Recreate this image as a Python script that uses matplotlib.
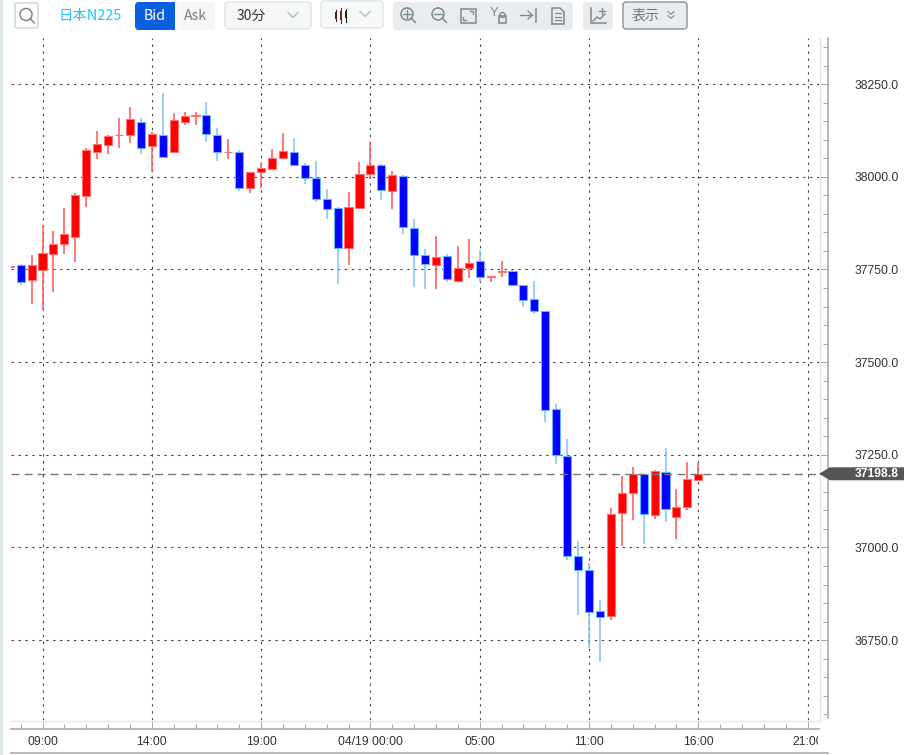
import matplotlib
matplotlib.use('Agg')
import matplotlib.pyplot as plt
from matplotlib.patches import FancyBboxPatch, Rectangle, Polygon, Circle
from matplotlib.ticker import FixedLocator, MultipleLocator, FixedFormatter, FormatStrFormatter
from matplotlib.transforms import Bbox

plt.rcParams['lines.scale_dashes'] = False

# 30 minute candles, index 0 is the 09:00 tick
first_index = -3
opens = [37758, 37761, 37721, 37749, 37793, 37819, 37838, 37949, 38067, 38087,
         38112, 38113, 38148, 38082, 38114, 38067, 38149, 38163, 38167, 38113,
         38066, 38067, 37969, 38012, 38021, 38052, 38066, 38032, 37998, 37941,
         37915, 37807, 37915, 38008, 38032, 37963, 38002, 37862, 37788, 37762,
         37785, 37720, 37755, 37772, 37730, 37743, 37746, 37709, 37669, 37637,
         37374, 37248, 36977, 36938, 36829, 36815, 37093, 37147, 37197, 37087,
         37203, 37083, 37109, 37183]
highs = [37759, 37766, 37790, 37869, 37854, 37916, 37957, 38078, 38123, 38113,
         38158, 38187, 38158, 38122, 38225, 38173, 38176, 38176, 38203, 38133,
         38103, 38071, 38012, 38037, 38076, 38117, 38106, 38038, 38043, 37968,
         37919, 37959, 38039, 38095, 38035, 38016, 38005, 37885, 37804, 37841,
         37793, 37812, 37831, 37802, 37732, 37772, 37749, 37709, 37719, 37637,
         37388, 37293, 37018, 36959, 36859, 37106, 37192, 37216, 37197, 37209,
         37269, 37158, 37231, 37227]
lows = [37758, 37708, 37656, 37642, 37689, 37793, 37770, 37918, 38049, 38061,
        38077, 38090, 38061, 38013, 38050, 38066, 38140, 38141, 38094, 38044,
        38049, 37961, 37956, 37971, 38021, 38048, 38032, 37980, 37931, 37886,
        37710, 37762, 37915, 37993, 37937, 37914, 37845, 37702, 37697, 37697,
        37715, 37720, 37728, 37716, 37715, 37731, 37709, 37648, 37629, 37338,
        37224, 36966, 36817, 36728, 36692, 36803, 37004, 37074, 37008, 37076,
        37069, 37022, 37102, 37182]
closes = [37760, 37717, 37763, 37794, 37819, 37845, 37950, 38073, 38089, 38110,
          38114, 38155, 38077, 38115, 38053, 38152, 38165, 38167, 38116, 38067,
          38067, 37971, 38012, 38024, 38052, 38069, 38033, 37997, 37940, 37913,
          37807, 37918, 38008, 38031, 37964, 38005, 37865, 37790, 37764, 37784,
          37724, 37754, 37768, 37730, 37732, 37747, 37709, 37668, 37637, 37370,
          37250, 36978, 36938, 36826, 36813, 37091, 37147, 37197, 37091, 37206,
          37104, 37110, 37185, 37198.8]

last_price = 37198.8
tick_pos = [0, 10, 20, 30, 40, 50, 60, 70]
tick_labels = ['09:00', '14:00', '19:00', '04/19 00:00', '05:00', '11:00', '16:00', '21:00']

W, H = 908, 755
# plot area in pixels
L, R, T, B = 11, 819, 38, 720
BAR_STEP = 10.93
X0 = 42.5
ymax, ymin = 38374.5, 36534.5

UP, UP_EDGE, UP_WICK = '#ff0000', '#ff7070', '#ff5555'
DOWN, DOWN_EDGE, DOWN_WICK = '#0000ff', '#66b3ff', '#80c0ff'
GRID = '#444444'
AXIS = '#aaaaaa'
ICON = '#7d8a8e'
NUM_FONT = ['Liberation Sans', 'DejaVu Sans']
UI_FONT = ['Noto Sans CJK JP', 'DejaVu Sans']


def px_axes(x0, y0, x1, y1):
    return fig.add_axes([x0 / W, 1 - y1 / H, (x1 - x0) / W, (y1 - y0) / H])


fig = plt.figure(figsize=(W / 100, H / 100), dpi=100, facecolor='white')

# whole figure layer in pixel coords for the toolbar and borders
ui = px_axes(0, 0, W, H)
ui.set_xlim(0, W)
ui.set_ylim(H, 0)
ui.axis('off')

# main chart
ax = px_axes(L, T, R, B)
ax.set_xlim((L - X0) / BAR_STEP, (R - X0) / BAR_STEP)
ax.set_ylim(ymin, ymax)
ax.patch.set_alpha(0)
for s in ax.spines.values():
    s.set_visible(False)
ax.tick_params(left=False, bottom=False, labelleft=False, labelbottom=False)
ax.xaxis.set_major_locator(FixedLocator(tick_pos))
ax.yaxis.set_major_locator(MultipleLocator(250))
ax.grid(True, color=GRID, lw=0.8, ls=(0, (1.7, 3.3)))
ax.set_axisbelow(True)

xs = [first_index + i for i in range(len(opens))]
colors = [UP if c >= o else DOWN for o, c in zip(opens, closes)]
edges = [UP_EDGE if c >= o else DOWN_EDGE for o, c in zip(opens, closes)]
wicks = [UP_WICK if c >= o else DOWN_WICK for o, c in zip(opens, closes)]

ax.vlines(xs, lows, highs, colors=wicks, lw=1.1, zorder=2)
ax.bar(xs, [abs(c - o) for o, c in zip(opens, closes)], bottom=[min(o, c) for o, c in zip(opens, closes)],
       width=0.74, color=colors, edgecolor=edges, linewidth=0.8, zorder=3)
ax.axhline(last_price, color='#777777', lw=1.0, ls=(0, (5.8, 3.6)), zorder=4)

# right price scale
ay = px_axes(R, T, R + 9, B - 2)
ay.set_ylim(ymin + 2 * (ymax - ymin) / (B - T), ymax)
ay.patch.set_alpha(0)
ay.set_xticks([])
for k in ['top', 'bottom', 'left']:
    ay.spines[k].set_visible(False)
ay.spines['right'].set_color(AXIS)
ay.spines['right'].set_linewidth(1.2)
ay.yaxis.tick_right()
ay.yaxis.set_major_locator(MultipleLocator(250))
ay.yaxis.set_minor_locator(MultipleLocator(50))
ay.yaxis.set_major_formatter(FormatStrFormatter('%.1f'))
ay.tick_params(axis='y', which='major', direction='in', length=6.5, width=0.8, color=AXIS, pad=19,
               labelsize=8.7, labelcolor='#333333')
ay.tick_params(axis='y', which='minor', direction='in', length=3.6, width=0.8, color=AXIS)
for lab in ay.get_yticklabels():
    lab.set_family(NUM_FONT)

# bottom time scale
ab = px_axes(L, B, R, B + 9)
ab.set_xlim(ax.get_xlim())
ab.patch.set_alpha(0)
ab.set_yticks([])
for k in ['top', 'left', 'right']:
    ab.spines[k].set_visible(False)
ab.spines['bottom'].set_color(AXIS)
ab.spines['bottom'].set_linewidth(1.2)
ab.xaxis.set_major_locator(FixedLocator(tick_pos))
ab.xaxis.set_major_formatter(FixedFormatter(tick_labels))
ab.xaxis.set_minor_locator(MultipleLocator(2))
ab.tick_params(axis='x', which='major', direction='in', length=6.5, width=0.8, color=AXIS, pad=5,
               labelsize=8.7, labelcolor='#333333')
ab.tick_params(axis='x', which='minor', direction='in', length=3.6, width=0.8, color=AXIS)
clip = Bbox([[0, 0], [818, H]])
for lab in ab.get_xticklabels():
    lab.set_family(NUM_FONT)
    lab.set_clip_box(clip)
    lab.set_clip_on(True)

# frame lines around the scales
ui.add_patch(Rectangle((0, 0), 3, H, color='#dfe7eb', lw=0))
ui.plot([R + 0.5, R + 0.5], [T, B], color='#e4e4e4', lw=1)
ui.plot([L, R], [B + 0.5, B + 0.5], color='#e8e8e8', lw=1)
ui.plot([L, 828], [752.5, 752.5], color=AXIS, lw=1.2)

# current price flag
yp = T + (ymax - last_price) / (ymax - ymin) * (B - T)
ui.add_patch(Polygon([(819, yp), (830, yp - 6.5), (904, yp - 6.5), (904, yp + 6.5), (830, yp + 6.5)],
                     closed=True, color='#555555', lw=0, zorder=6))
ui.text(855, yp, '%.1f' % last_price, color='white', fontsize=8.7, family=NUM_FONT, va='center', ha='left',
        weight='bold', zorder=7)
ui.set_zorder(5)


def box(x0, y0, x1, y1, fc, ec='none', r=3, lw=1.0):
    ui.add_patch(FancyBboxPatch((x0 + r, y0 + r), x1 - x0 - 2 * r, y1 - y0 - 2 * r,
                                boxstyle='round,pad=%f,rounding_size=%f' % (r, r), fc=fc, ec=ec, lw=lw))


def chevron(x, y, c='#b5bdc0', w=5, h=3.5, lw=1.0):
    ui.plot([x - w, x, x + w], [y - h / 2, y + h / 2, y - h / 2], color=c, lw=lw)


def magnifier(x, y, r=6, c=ICON, lw=1.1):
    ui.add_patch(Circle((x, y), r, fc='none', ec=c, lw=lw))
    ui.plot([x + r * 0.7, x + r * 1.4], [y + r * 0.7, y + r * 1.4], color=c, lw=lw)


# toolbar
box(15, 3, 38, 28, 'white', '#c9d2d6', r=2)
magnifier(26, 14.5, r=6, c='#7d888c', lw=1.1)
ui.text(58, 16, '日本N225', color='#1cc3ff', fontsize=10.4, family=UI_FONT, va='center')

box(135, 2, 215, 30, '#f5f6f7', r=4)
box(135, 2, 178, 30, '#0a5fdc', r=4)
ui.add_patch(Rectangle((170, 2), 5, 28, color='#0a5fdc', lw=0))
ui.add_patch(Rectangle((175, 2), 4, 28, color='#f5f6f7', lw=0))
ui.text(155, 16, 'Bid', color='white', fontsize=10.2, family=UI_FONT, va='center', ha='center')
ui.text(195, 16, 'Ask', color='#7b7f82', fontsize=10.2, family=UI_FONT, va='center', ha='center')

box(225, 2, 311, 29, '#f5f7f7', '#dde3e6')
ui.text(237, 16, '30分', color='#333333', fontsize=10, family=UI_FONT, va='center')
chevron(293, 15, w=5, h=5)

box(321, 1, 383, 28, '#f7f8f8', '#dde3e6')
for cx, y0, y1, b0, b1, c in [(336, 10, 21, 12, 19, '#3a2a20'), (341, 8, 23, 11, 20, '#7a2a10'), (346, 9, 22, 11, 18, '#222222')]:
    ui.plot([cx, cx], [y0, y1], color=c, lw=0.8)
    ui.add_patch(Rectangle((cx - 1.4, b0), 2.8, b1 - b0, color=c, lw=0))
chevron(365, 14, w=5, h=5)

box(393, 2, 573, 30, '#e8ecee', r=4)
magnifier(407, 14)
ui.plot([403, 411], [14, 14], color=ICON, lw=1.0)
ui.plot([407, 407], [10, 18], color=ICON, lw=1.0)
magnifier(438, 14)
ui.plot([434, 442], [14, 14], color=ICON, lw=1.0)
# fit to screen
ui.add_patch(Rectangle((460.5, 8.5), 15, 14, fc='none', ec=ICON, lw=1.1))
ui.plot([470, 473, 473], [11, 11, 14], color=ICON, lw=1.0)
ui.plot([463, 463, 466], [17, 20, 20], color=ICON, lw=1.0)
# Y lock
ui.text(494, 13, 'Y', color=ICON, fontsize=9.5, family=NUM_FONT, ha='center', va='center')
ui.add_patch(Rectangle((499, 16), 7, 6.5, fc='none', ec=ICON, lw=1.1))
ui.add_patch(Circle((502.5, 15), 2.5, fc='none', ec=ICON, lw=1.0))
# scroll to end
ui.plot([520, 532], [15, 15], color=ICON, lw=1.0)
ui.plot([528, 532, 528], [11, 15, 19], color=ICON, lw=1.0)
ui.plot([535.5, 535.5], [9, 22], color=ICON, lw=1.1)
# document
ui.plot([552, 552, 560, 564, 564, 552], [24, 8, 8, 12, 24, 24], color=ICON, lw=1.1)
for yy in [13, 16.5, 20]:
    ui.plot([555, 561], [yy, yy], color=ICON, lw=0.9)

box(583, 2, 613, 30, '#e8ecee', r=4)
ui.plot([591, 591, 606], [8, 23, 23], color=ICON, lw=1.1)
ui.plot([593, 597, 600, 605], [21, 17, 19, 14], color=ICON, lw=1.0)
ui.plot([599, 605], [10.5, 10.5], color=ICON, lw=1.0)
ui.plot([602, 602], [7.5, 13.5], color=ICON, lw=1.0)

box(623, 2, 687, 29, '#e8ecee', '#8a9296', r=3, lw=1.0)
ui.text(632, 16, '表示', color='#6f7a7e', fontsize=10, family=UI_FONT, va='center')
chevron(671, 13, c=ICON, w=3, h=2.5, lw=0.8)
chevron(671, 17, c=ICON, w=3, h=2.5, lw=0.8)

fig.savefig('out.png', dpi=100, facecolor='white')
